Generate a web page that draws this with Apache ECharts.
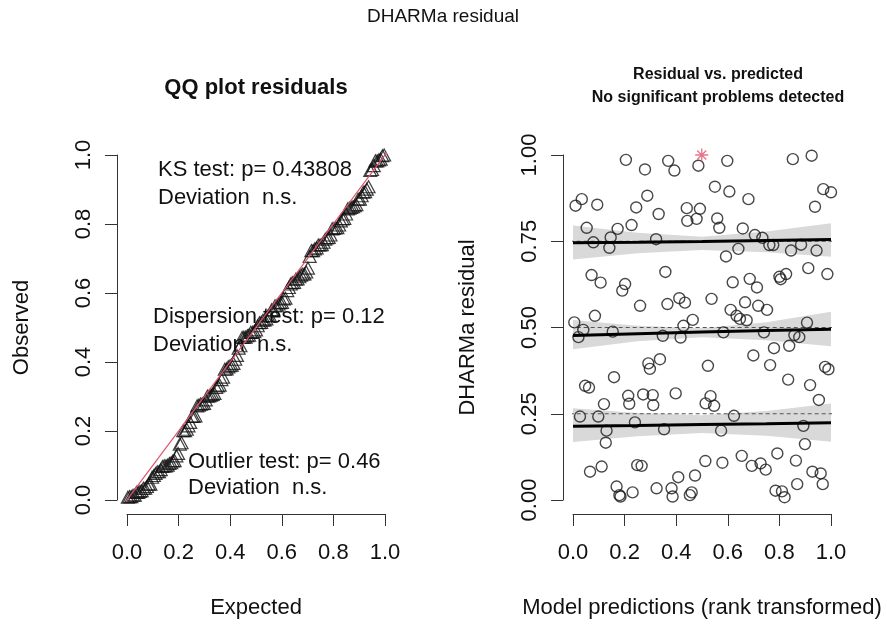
<!DOCTYPE html>
<html><head><meta charset="utf-8">
<script src="https://cdn.jsdelivr.net/npm/echarts@6/dist/echarts.min.js"></script>
<style>html,body{margin:0;padding:0;background:#fff}#c{width:887px;height:625px}</style>
</head><body><div id="c"></div>
<script>
// ---- data ----
const predX = [0.205,0.279,0.369,0.393,0.486,0.034,0.010,0.094,0.288,0.245,0.332,0.441,0.492,0.443,0.479,0.053,0.173,0.227,0.146,0.079,0.141,0.322,0.072,0.107,0.202,0.191,0.358,0.260,0.366,0.412,0.434,0.085,0.005,0.464,0.428,0.598,0.852,0.925,0.550,0.606,0.680,0.970,1.000,0.938,0.559,0.567,0.658,0.705,0.734,0.761,0.776,0.641,0.593,0.845,0.884,0.944,0.912,0.986,0.800,0.805,0.826,0.619,0.685,0.713,0.537,0.667,0.718,0.752,0.611,0.634,0.647,0.673,0.907,
  0.040,0.021,0.154,0.348,0.417,0.583,0.740,0.858,0.877,0.838,0.779,0.699,0.764,0.523,0.337,0.292,0.298,0.977,0.990,0.159,0.834,0.047,0.062,0.919,0.214,0.218,0.272,0.309,0.311,0.398,0.120,0.514,0.533,0.547,0.953,0.027,0.098,0.130,0.127,0.240,0.353,0.574,0.624,0.893,0.899,0.066,0.111,0.249,0.266,0.169,0.180,0.184,0.231,0.324,0.382,0.386,0.408,0.453,0.460,0.473,0.513,0.579,0.654,0.693,0.727,0.747,0.792,0.864,0.928,0.960,0.968,0.869,0.785,0.810,0.820];
const residY = [0.986,0.958,0.983,0.955,0.969,0.872,0.853,0.856,0.882,0.848,0.829,0.846,0.844,0.809,0.815,0.789,0.786,0.797,0.761,0.747,0.731,0.756,0.652,0.630,0.626,0.607,0.661,0.563,0.568,0.585,0.572,0.534,0.515,0.522,0.505,0.983,0.988,0.998,0.908,0.894,0.872,0.901,0.892,0.850,0.816,0.789,0.787,0.768,0.760,0.739,0.739,0.728,0.706,0.723,0.740,0.723,0.672,0.655,0.647,0.640,0.655,0.631,0.641,0.616,0.583,0.573,0.563,0.551,0.551,0.534,0.525,0.521,0.514,
  0.493,0.472,0.488,0.476,0.471,0.486,0.486,0.478,0.472,0.447,0.440,0.419,0.391,0.389,0.408,0.396,0.380,0.386,0.379,0.356,0.349,0.331,0.326,0.333,0.302,0.279,0.306,0.304,0.275,0.309,0.278,0.280,0.301,0.273,0.290,0.242,0.242,0.201,0.166,0.225,0.205,0.201,0.244,0.215,0.162,0.082,0.097,0.101,0.099,0.039,0.014,0.010,0.022,0.034,0.034,0.010,0.066,0.014,0.022,0.071,0.113,0.108,0.128,0.099,0.106,0.088,0.135,0.114,0.082,0.077,0.046,0.046,0.027,0.025,0.008];
const outlierX = [0.499];
const outlierY = [1.0];

const qrX = [0, 0.25, 0.5, 0.75, 1];
const q25Line = [0.214, 0.216, 0.219, 0.221, 0.224];
const q50Line = [0.477, 0.482, 0.487, 0.491, 0.495];
const q75Line = [0.746, 0.747, 0.749, 0.752, 0.755];
const q25Lo = [0.168, 0.185, 0.194, 0.186, 0.169];
const q25Hi = [0.266, 0.252, 0.246, 0.258, 0.280];
const q50Lo = [0.437, 0.460, 0.472, 0.463, 0.446];
const q50Hi = [0.522, 0.505, 0.498, 0.515, 0.546];
const q75Lo = [0.697, 0.715, 0.725, 0.718, 0.705];
const q75Hi = [0.796, 0.775, 0.763, 0.778, 0.802];
const refLevels = [0.25, 0.5, 0.75];

// ---- derived tables ----
const allResid = residY.concat(outlierY).slice().sort((a, b) => a - b);
const nRes = allResid.length;
const qqData = allResid.map((v, i) => [(i + 0.5) / nRes, v]);
const resData = predX.map((x, i) => [x, residY[i]]);
const outData = outlierX.map((x, i) => [x, outlierY[i]]);
const bands = [[q25Lo, q25Hi], [q50Lo, q50Hi], [q75Lo, q75Hi]];

const FONT = '"Liberation Sans", Arial, Helvetica, sans-serif';
const AX = '#333';

function mkAxis(grid, isX, interval, digits, name) {
  return {
    type: 'value', gridIndex: grid, min: 0, max: 1, interval: interval,
    position: isX ? 'bottom' : 'left',
    offset: isX ? 14 : 10,
    axisLine: { show: true, onZero: false, lineStyle: { color: AX, width: 1 } },
    axisTick: { show: true, length: 12, lineStyle: { color: AX, width: 1 } },
    axisLabel: {
      fontSize: 22, color: '#111', fontFamily: FONT,
      margin: isX ? 28 : 22, rotate: isX ? 0 : 90,
      formatter: v => v.toFixed(digits)
    },
    splitLine: { show: false },
    name: name, nameLocation: 'middle', nameGap: isX ? 83 : 84,
    nameTextStyle: { fontSize: 22, color: '#111', fontFamily: FONT }
  };
}

function txt(x, y, s, size, weight, align) {
  return { type: 'text', x: x, y: y, silent: true,
    style: { text: s, fill: '#111', font: (weight || 'normal') + ' ' + size + 'px ' + FONT,
      align: align || 'left', verticalAlign: 'middle' } };
}

const chart = echarts.init(document.getElementById('c'), null, { renderer: 'canvas' });
const series = [];
series.push({
  type: 'scatter', xAxisIndex: 0, yAxisIndex: 0, data: qqData,
  symbol: 'triangle', symbolSize: [13, 12],
  itemStyle: { color: 'rgba(0,0,0,0)', borderColor: '#111', borderWidth: 1.2 },
  z: 2, silent: true
});
series.push({
  type: 'line', xAxisIndex: 0, yAxisIndex: 0, data: [[-0.04, -0.04], [1.04, 1.04]],
  showSymbol: false, clip: false,
  lineStyle: { color: '#DF536B', width: 1.2 }, z: 4, silent: true
});
series.push({
  type: 'custom', xAxisIndex: 1, yAxisIndex: 1, data: [0, 1, 2], z: 1, silent: true,
  renderItem: function (params, api) {
    const b = bands[params.dataIndex];
    const pts = [];
    for (let i = 0; i < qrX.length; i++) pts.push(api.coord([qrX[i], b[1][i]]));
    for (let i = qrX.length - 1; i >= 0; i--) pts.push(api.coord([qrX[i], b[0][i]]));
    return { type: 'polygon', shape: { points: pts }, style: { fill: '#d9d9d9' } };
  }
});
refLevels.forEach(l => series.push({
  type: 'line', xAxisIndex: 1, yAxisIndex: 1, data: [[-0.04, l], [1.04, l]],
  showSymbol: false, clip: false,
  lineStyle: { color: '#555', width: 1, type: [4, 3] }, z: 2, silent: true
}));
series.push({
  type: 'scatter', xAxisIndex: 1, yAxisIndex: 1, data: resData,
  symbol: 'circle', symbolSize: 11,
  itemStyle: { color: 'rgba(0,0,0,0)', borderColor: '#1a1a1a', borderWidth: 1.4 },
  z: 3, silent: true
});
[q25Line, q50Line, q75Line].forEach(q => series.push({
  type: 'line', xAxisIndex: 1, yAxisIndex: 1, data: qrX.map((x, i) => [x, q[i]]),
  showSymbol: false, lineStyle: { color: '#000', width: 3 }, z: 5, silent: true
}));
series.push({
  type: 'scatter', xAxisIndex: 1, yAxisIndex: 1, data: outData,
  symbol: 'path://M5,0L5,10M0,5L10,5M1.5,1.5L8.5,8.5M1.5,8.5L8.5,1.5', symbolSize: 13,
  itemStyle: { color: 'none', borderColor: '#DF536B', borderWidth: 1.3 },
  z: 6, silent: true
});

chart.setOption({
  animation: false,
  backgroundColor: '#fff',
  grid: [
    { left: 127, top: 155, width: 258, height: 345 },
    { left: 573, top: 155, width: 258, height: 345 }
  ],
  xAxis: [mkAxis(0, true, 0.2, 1, 'Expected'), mkAxis(1, true, 0.2, 1, 'Model predictions (rank transformed)')],
  yAxis: [mkAxis(0, false, 0.2, 1, 'Observed'), mkAxis(1, false, 0.25, 2, 'DHARMa residual')],
  series: series,
  graphic: [
    txt(443, 17, 'DHARMa residual', 19, 'normal', 'center'),
    txt(256, 88, 'QQ plot residuals', 22, 'bold', 'center'),
    txt(718, 75, 'Residual vs. predicted', 16, 'bold', 'center'),
    txt(718, 98, 'No significant problems detected', 16, 'bold', 'center'),
    txt(158, 170, 'KS test: p= 0.43808', 22),
    txt(158, 198, 'Deviation  n.s.', 22),
    txt(153, 317, 'Dispersion test: p= 0.12', 22),
    txt(153, 345, 'Deviation  n.s.', 22),
    txt(188, 462, 'Outlier test: p= 0.46', 22),
    txt(188, 488, 'Deviation  n.s.', 22)
  ]
});
</script></body></html>
